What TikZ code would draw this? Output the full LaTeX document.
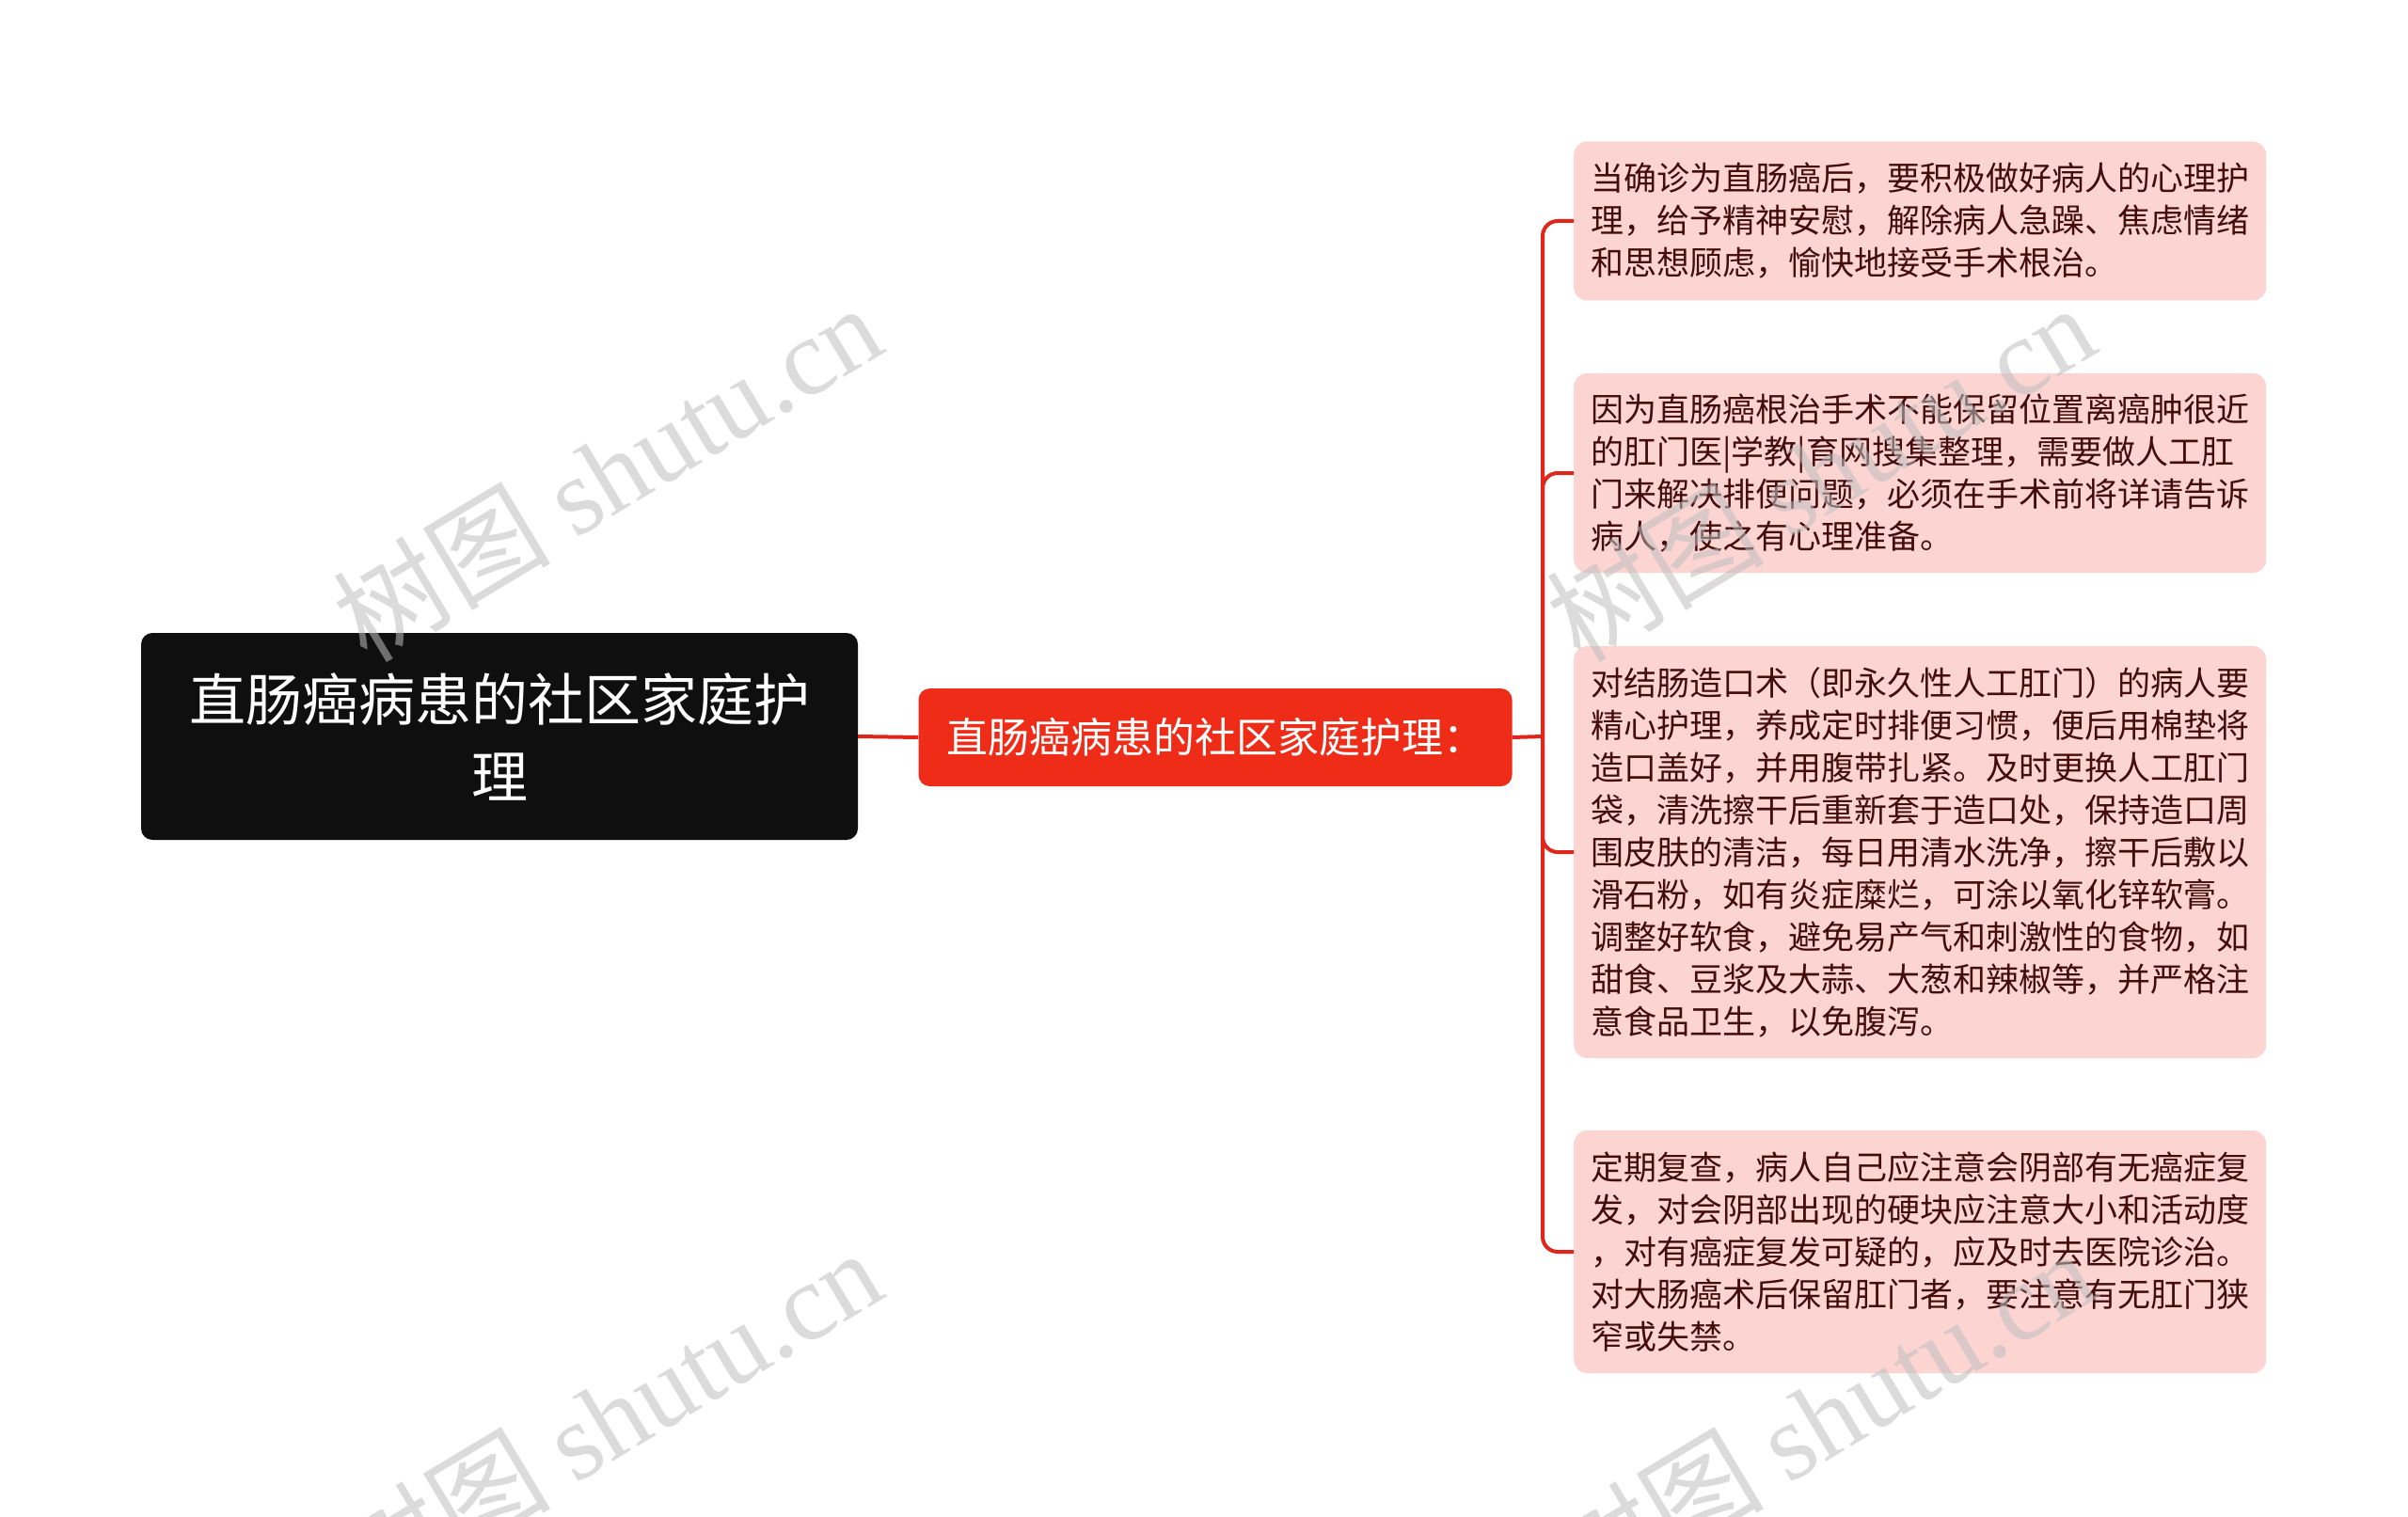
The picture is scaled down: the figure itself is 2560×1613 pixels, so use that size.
\documentclass[tikz,border=0pt]{standalone}
\usepackage{fontspec}
\setmainfont{Noto Sans CJK SC}
\newfontfamily\wmfont{Liberation Serif}
\newfontfamily\wmcjk{Noto Sans CJK SC}
\definecolor{rootfill}{HTML}{0F0F0F}
\definecolor{midfill}{HTML}{EE2C18}
\definecolor{leaffill}{HTML}{FCD5D3}
\definecolor{leaftext}{HTML}{430D0D}
\definecolor{linkred}{HTML}{E1251B}
\definecolor{wmgray}{HTML}{BEBEBE}
\tikzset{
  rootbox/.style={fill=rootfill, rounded corners=12pt, text=white,
    font=\fontsize{60}{82}\selectfont, align=center,
    minimum width=762pt, minimum height=220pt, inner sep=0pt},
  midbox/.style={fill=midfill, rounded corners=12pt, text=white,
    font=\fontsize{44}{54}\selectfont,
    minimum width=631pt, minimum height=104pt, inner sep=0pt},
  leafbox/.style={fill=leaffill, rounded corners=14pt, text=leaftext,
    font=\fontsize{35}{45}\selectfont, align=left,
    minimum width=736pt, inner sep=0pt, anchor=west},
  link/.style={draw=linkred, line width=4pt},
  wmark/.style={text=wmgray, opacity=0.55, rotate=31, inner sep=0pt,
    font=\fontsize{116}{130}\selectfont}
}
\begin{document}
\begin{tikzpicture}[x=1pt,y=-1pt]
\useasboundingbox[fill=white] (0,0) rectangle (2560,1613);

\node[rootbox] (root) at (531,783) {直肠癌病患的社区家庭护\\理};
\node[midbox] (mid) at (1292,784) {直肠癌病患的社区家庭护理：};

\node[leafbox, minimum height=169pt] (l1) at (1673,235)
  {当确诊为直肠癌后，要积极做好病人的心理护\\理，给予精神安慰，解除病人急躁、焦虑情绪\\和思想顾虑，愉快地接受手术根治。};
\node[leafbox, minimum height=212pt] (l2) at (1673,503)
  {因为直肠癌根治手术不能保留位置离癌肿很近\\的肛门医|学教|育网搜集整理，需要做人工肛\\门来解决排便问题，必须在手术前将详请告诉\\病人，使之有心理准备。};
\node[leafbox, minimum height=438pt] (l3) at (1673,906)
  {对结肠造口术（即永久性人工肛门）的病人要\\精心护理，养成定时排便习惯，便后用棉垫将\\造口盖好，并用腹带扎紧。及时更换人工肛门\\袋，清洗擦干后重新套于造口处，保持造口周\\围皮肤的清洁，每日用清水洗净，擦干后敷以\\滑石粉，如有炎症糜烂，可涂以氧化锌软膏。\\调整好软食，避免易产气和刺激性的食物，如\\甜食、豆浆及大蒜、大葱和辣椒等，并严格注\\意食品卫生，以免腹泻。};
\node[leafbox, minimum height=258pt] (l4) at (1673,1331)
  {定期复查，病人自己应注意会阴部有无癌症复\\发，对会阴部出现的硬块应注意大小和活动度\\，对有癌症复发可疑的，应及时去医院诊治。\\对大肠癌术后保留肛门者，要注意有无肛门狭\\窄或失禁。};

\coordinate (jn) at (1640,783);
\draw[link] (root.east) -- (mid.west);
\draw[link] (mid.east) -- (jn);
\foreach \leaf in {l1,l2,l3,l4}
  \draw[link, rounded corners=16pt] (jn) |- (\leaf.west);

\node[wmark] (wm1) at (645,502) {{\wmcjk 树图} {\wmfont shutu.cn}};
\node[wmark] (wm2) at (1935,502) {{\wmcjk 树图} {\wmfont shutu.cn}};
\node[wmark] (wm3) at (645,1507) {{\wmcjk 树图} {\wmfont shutu.cn}};
\node[wmark] (wm4) at (1935,1507) {{\wmcjk 树图} {\wmfont shutu.cn}};
\end{tikzpicture}
\end{document}
